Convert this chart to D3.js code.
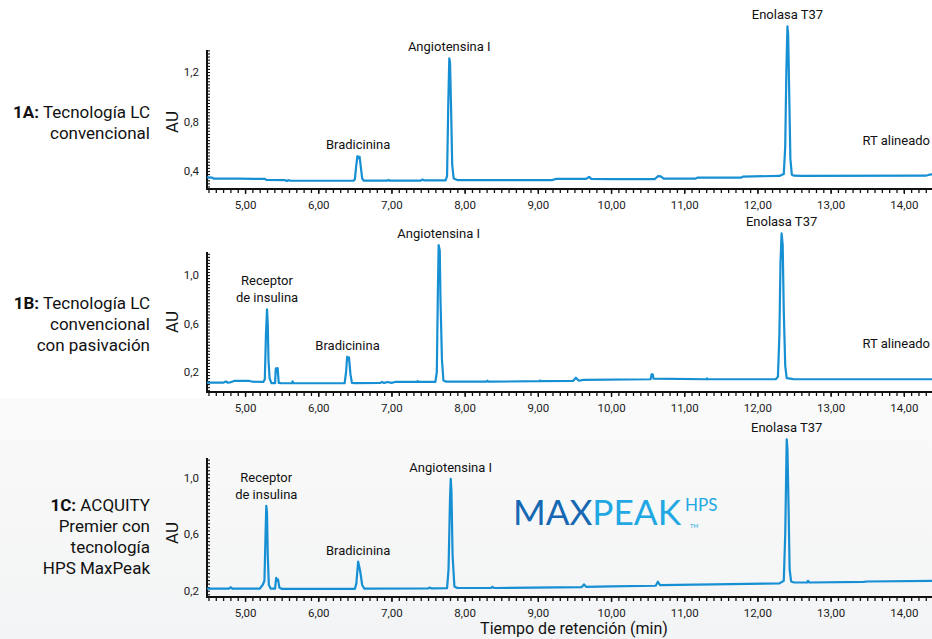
<!DOCTYPE html>
<html><head><meta charset="utf-8">
<script src="https://cdn.jsdelivr.net/npm/d3@7"></script>
<style>
html,body{margin:0;padding:0;background:#fff;}
svg{display:block;font-family:Roboto,"Noto Sans",sans-serif;}
</style></head>
<body>
<svg id="c" width="932" height="639"></svg>
<script>
// ---------- DATA ----------
const xTickValues = [5, 6, 7, 8, 9, 10, 11, 12, 13, 14];
const xDomain = [4.48, 14.385];

const panelIds = ["1A", "1B", "1C"];
const panelTitles = [
  ["Tecnología LC", "convencional"],
  ["Tecnología LC", "convencional", "con pasivación"],
  ["ACQUITY", "Premier con", "tecnología", "HPS MaxPeak"]
];
const yDomains = [[0.2545, 1.378], [0.035, 1.19], [0.1555, 1.1365]];
const yTickValues = [[0.4, 0.8, 1.2], [0.2, 0.6, 1.0], [0.2, 0.6, 1.0]];

// Trace A: [time (min), AU]
const traceA = [
  [4.48,0.348],[4.55,0.347],[4.57,0.339],[4.90,0.338],[5.27,0.336],[5.29,0.328],[5.55,0.326],
  [5.57,0.320],[5.59,0.326],[5.62,0.321],[6.00,0.321],[6.48,0.321],[6.50,0.332],[6.52,0.45],
  [6.535,0.52],[6.55,0.505],[6.565,0.515],[6.58,0.44],[6.60,0.34],[6.62,0.322],[6.94,0.322],
  [6.96,0.328],[6.98,0.322],[7.40,0.322],[7.42,0.330],[7.45,0.324],[7.74,0.324],[7.76,0.36],
  [7.775,0.9],[7.79,1.31],[7.80,1.28],[7.815,0.9],[7.83,0.45],[7.85,0.34],[7.90,0.327],
  [8.50,0.327],[8.70,0.326],[9.20,0.327],[9.25,0.336],[9.66,0.336],[9.70,0.352],[9.73,0.336],
  [10.00,0.334],[10.60,0.335],[10.64,0.358],[10.68,0.356],[10.72,0.338],[11.15,0.338],
  [11.18,0.346],[11.78,0.347],[11.80,0.355],[12.30,0.360],[12.36,0.375],[12.38,0.60],
  [12.395,1.20],[12.41,1.57],[12.42,1.50],[12.435,1.00],[12.45,0.50],[12.47,0.37],
  [12.50,0.362],[12.60,0.360],[14.30,0.362],[14.35,0.370],[14.385,0.372]
];
// Trace B
const traceB = [
  [4.48,0.112],[4.70,0.112],[4.74,0.122],[4.76,0.112],[4.80,0.115],[4.85,0.126],[5.05,0.128],
  [5.10,0.120],[5.25,0.118],[5.27,0.14],[5.285,0.50],[5.30,0.717],[5.31,0.60],[5.32,0.30],
  [5.335,0.15],[5.36,0.108],[5.41,0.108],[5.42,0.23],[5.435,0.20],[5.445,0.232],[5.46,0.11],
  [5.50,0.107],[5.64,0.107],[5.65,0.122],[5.66,0.107],[6.36,0.107],[6.38,0.20],[6.395,0.326],
  [6.41,0.30],[6.42,0.32],[6.44,0.18],[6.46,0.11],[6.50,0.108],[6.85,0.110],[6.87,0.118],
  [6.90,0.110],[6.95,0.118],[7.00,0.110],[7.05,0.118],[7.35,0.118],[7.36,0.125],[7.37,0.118],
  [7.60,0.118],[7.62,0.20],[7.635,0.90],[7.645,1.247],[7.66,1.20],[7.67,0.80],[7.69,0.30],
  [7.71,0.13],[7.75,0.120],[8.30,0.120],[8.31,0.128],[8.32,0.120],[9.02,0.124],[9.03,0.130],
  [9.04,0.124],[9.48,0.126],[9.52,0.153],[9.56,0.128],[9.62,0.135],[10.54,0.140],[10.555,0.181],
  [10.57,0.180],[10.58,0.145],[11.30,0.140],[11.31,0.148],[11.32,0.140],[12.25,0.140],
  [12.28,0.16],[12.30,0.50],[12.315,1.10],[12.33,1.344],[12.345,1.25],[12.36,0.70],[12.38,0.25],
  [12.40,0.15],[12.45,0.145],[12.50,0.140],[14.385,0.140]
];
// Trace C
const traceC = [
  [4.48,0.214],[4.78,0.214],[4.80,0.224],[4.83,0.214],[5.20,0.214],[5.24,0.24],[5.265,0.27],
  [5.28,0.60],[5.29,0.798],[5.30,0.75],[5.31,0.45],[5.325,0.24],[5.35,0.215],[5.41,0.215],
  [5.425,0.29],[5.44,0.27],[5.45,0.28],[5.47,0.22],[5.50,0.213],[6.50,0.213],[6.52,0.25],
  [6.545,0.405],[6.56,0.37],[6.575,0.33],[6.60,0.24],[6.63,0.215],[7.50,0.216],[7.52,0.222],
  [7.55,0.216],[7.76,0.218],[7.78,0.35],[7.80,0.85],[7.81,0.99],[7.82,0.90],[7.835,0.45],
  [7.86,0.23],[7.90,0.219],[8.36,0.219],[8.38,0.228],[8.40,0.219],[9.60,0.225],[9.63,0.245],
  [9.66,0.227],[10.00,0.230],[10.61,0.235],[10.64,0.263],[10.67,0.240],[11.40,0.245],
  [12.30,0.252],[12.36,0.27],[12.38,0.60],[12.40,1.268],[12.41,1.20],[12.425,0.80],[12.44,0.35],
  [12.46,0.265],[12.50,0.258],[12.68,0.258],[12.69,0.270],[12.71,0.258],[13.45,0.262],
  [13.50,0.265],[14.385,0.270]
];
const traces = [traceA, traceB, traceC];

// Peak annotations: [label lines, peak time, peak AU]
const peaksA = [[["Bradicinina"],6.544,0.52],[["Angiotensina I"],7.79,1.31],[["Enolasa T37"],12.41,1.57]];
const peaksB = [[["Receptor","de insulina"],5.30,0.717],[["Bradicinina"],6.40,0.326],[["Angiotensina I"],7.645,1.247],[["Enolasa T37"],12.33,1.344]];
const peaksC = [[["Receptor","de insulina"],5.29,0.798],[["Bradicinina"],6.545,0.405],[["Angiotensina I"],7.81,0.99],[["Enolasa T37"],12.40,1.268]];
const peaks = [peaksA, peaksB, peaksC];
const rtNote = [true, true, false];

// ---------- LAYOUT ----------
const W = 932, H = 639;
const svg = d3.select("#c");
const defs = svg.append("defs");
const grad = defs.append("linearGradient").attr("id","bg").attr("x1",0).attr("y1",0).attr("x2",0).attr("y2",1);
grad.append("stop").attr("offset","0%").attr("stop-color","#fafafa");
grad.append("stop").attr("offset","100%").attr("stop-color","#f3f4f5");
svg.append("rect").attr("width",W).attr("height",H).attr("fill","#fff");
svg.append("rect").attr("x",0).attr("y",398).attr("width",W).attr("height",H-398).attr("fill","url(#bg)");

const panels = [
  {top: 50, bottom: 189, titleY: 118, auY: 122},
  {top: 252, bottom: 392, titleY: 309, auY: 322},
  {top: 458, bottom: 597, titleY: 511, auY: 533}
];
const left = 207, right = 932;
const lineColor = "#168fd3";
const x = d3.scaleLinear().domain(xDomain).range([left, right]);
const fmt = v => v.toFixed(v >= 5 ? 2 : 1).replace(".", ",");

panels.forEach((p, i) => {
  const y = d3.scaleLinear().domain(yDomains[i]).range([p.bottom, p.top]);
  const g = svg.append("g");

  // minor x ticks
  const xMinor = d3.range(45, 144, 1).map(v => v / 10).filter(v => v >= xDomain[0] && v <= xDomain[1]);
  g.append("g").attr("transform", `translate(0,${p.bottom})`)
    .call(d3.axisBottom(x).tickValues(xMinor).tickSize(4).tickFormat(""))
    .call(a => a.select(".domain").remove())
    .call(a => a.selectAll("line").attr("stroke","#111").attr("stroke-width",1.3));
  // major x ticks with labels
  g.append("g").attr("transform", `translate(0,${p.bottom})`)
    .call(d3.axisBottom(x).tickValues(xTickValues).tickSize(5).tickPadding(7).tickFormat(d => fmt(d)))
    .call(a => a.select(".domain").remove())
    .call(a => a.selectAll("line").attr("stroke","#111").attr("stroke-width",1.3))
    .call(a => a.selectAll("text").attr("font-size",11.5).attr("fill","#222").attr("font-family","Roboto, sans-serif"));

  // minor y ticks (inside, right of axis)
  const yMinor = d3.range(Math.ceil(yDomains[i][0] / 0.025), Math.floor(yDomains[i][1] / 0.025) + 1).map(k => k * 0.025);
  g.append("g").attr("transform", `translate(${left},0)`)
    .call(d3.axisRight(y).tickValues(yMinor).tickSize(3).tickFormat(""))
    .call(a => a.select(".domain").remove())
    .call(a => a.selectAll("line").attr("stroke","#111").attr("stroke-width",1.1));
  g.append("g").attr("transform", `translate(${left},0)`)
    .call(d3.axisLeft(y).tickValues(yTickValues[i]).tickSize(0).tickPadding(8).tickFormat(d => fmt(d)))
    .call(a => a.select(".domain").remove())
    .call(a => a.selectAll("text").attr("font-size",11.5).attr("fill","#222").attr("font-family","Roboto, sans-serif"));

  // axis lines
  g.append("line").attr("x1",left).attr("x2",right).attr("y1",p.bottom).attr("y2",p.bottom)
    .attr("stroke","#111").attr("stroke-width",2);
  g.append("line").attr("x1",left).attr("x2",left).attr("y1",p.top).attr("y2",p.bottom+1)
    .attr("stroke","#111").attr("stroke-width",2);

  // trace
  const line = d3.line().x(d => x(d[0])).y(d => y(d[1]));
  g.append("path").datum(traces[i]).attr("d", line).attr("fill","none")
    .attr("stroke", lineColor).attr("stroke-width", 2.2).attr("stroke-linejoin","round");

  // AU label
  g.append("text").attr("transform", `translate(178,${p.auY}) rotate(-90)`)
    .attr("text-anchor","middle").attr("font-size",17).attr("fill","#111").text("AU");

  // panel title
  const t = g.append("text").attr("text-anchor","end").attr("font-size",17).attr("fill","#111");
  panelTitles[i].forEach((ln, k) => {
    const ts = t.append("tspan").attr("x",150).attr("y",p.titleY + k * 21);
    if (k === 0) {
      ts.append("tspan").attr("font-weight","bold").text(panelIds[i] + ":");
      ts.append("tspan").text(" " + ln);
    } else ts.text(ln);
  });

  // peak labels
  peaks[i].forEach(pk => {
    const lines = pk[0];
    const bx = x(pk[1]);
    const by = y(pk[2]) - 7;
    const txt = g.append("text").attr("text-anchor","middle").attr("font-size",13).attr("fill","#111");
    lines.forEach((ln, k) => {
      txt.append("tspan").attr("x", bx).attr("y", by - (lines.length - 1 - k) * 17).text(ln);
    });
  });

  if (rtNote[i]) {
    g.append("text").attr("x",930).attr("y", p.bottom - 44).attr("text-anchor","end")
      .attr("font-size",13).attr("fill","#111").text("RT alineado");
  }
});

// x axis title
svg.append("text").attr("x",574).attr("y",634).attr("text-anchor","middle")
  .attr("font-size",16).attr("fill","#111").text("Tiempo de retención (min)");

// MAXPEAK logo (text)
const logo = svg.append("text").attr("x",513).attr("y",525).attr("font-family","Lato, Roboto, sans-serif")
  .attr("font-weight",400).attr("font-size",35).attr("textLength",168).attr("lengthAdjust","spacingAndGlyphs");
logo.append("tspan").attr("fill","#1668b3").text("MAX");
logo.append("tspan").attr("fill","#1fa8e3").text("PEAK");
svg.append("text").attr("x",685).attr("y",511).attr("font-family","Lato, Roboto, sans-serif")
  .attr("font-weight",400).attr("font-size",17).attr("fill","#1fa8e3").text("HPS");
svg.append("text").attr("x",690).attr("y",528).attr("font-family","Lato, Roboto, sans-serif")
  .attr("font-size",5.5).attr("fill","#1fa8e3").text("TM");
</script>
</body></html>
